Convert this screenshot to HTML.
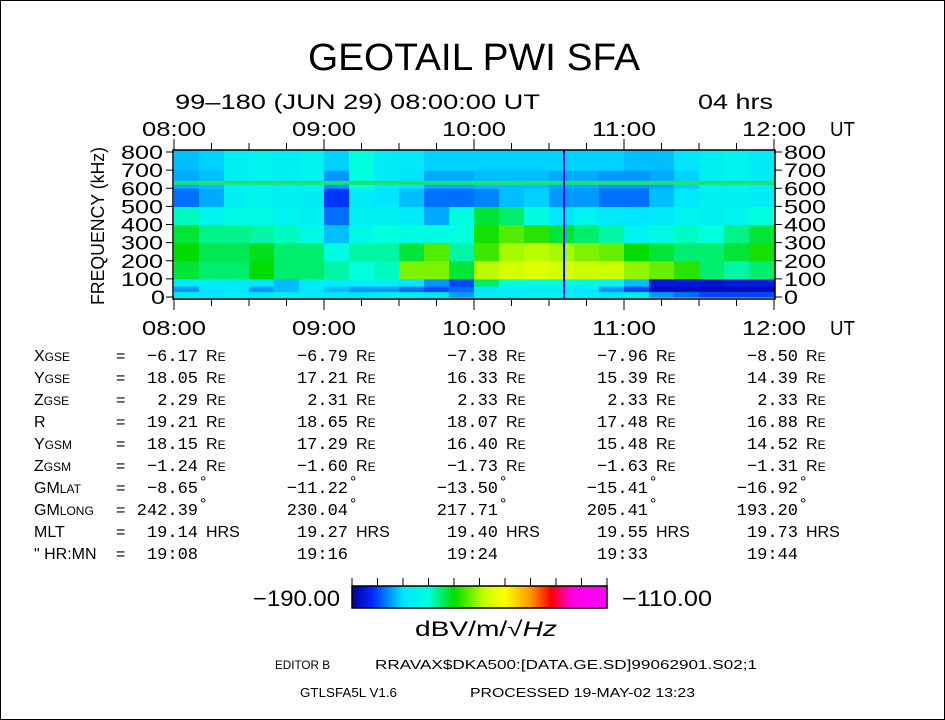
<!DOCTYPE html>
<html><head><meta charset="utf-8">
<style>
html,body{margin:0;padding:0;background:#fff;}
svg{display:block;font-family:"Liberation Sans",sans-serif;}
text{fill:#000;}
.m{font-family:"Liberation Mono",monospace;}
</style></head>
<body>
<svg id="c" width="945" height="720" viewBox="0 0 945 720">
<rect x="0.5" y="0.5" width="944" height="719" fill="#fff" stroke="#000"/>
<text x="308" y="70" font-size="38" textLength="332" lengthAdjust="spacingAndGlyphs">GEOTAIL  PWI  SFA</text>
<text x="175" y="109" font-size="21" textLength="365" lengthAdjust="spacingAndGlyphs">99–180 (JUN 29) 08:00:00 UT</text>
<text x="698" y="109" font-size="21" textLength="75" lengthAdjust="spacingAndGlyphs">04 hrs</text>
<g id="spec"></g>
<g id="axes"></g>
<text transform="translate(104,226) rotate(-90)" font-size="18" text-anchor="middle" textLength="158" lengthAdjust="spacingAndGlyphs">FREQUENCY (kHz)</text>
<g id="table"></g>
<g id="cbar"></g>
<text x="253" y="606" font-size="22" textLength="87" lengthAdjust="spacingAndGlyphs">−190.00</text>
<text x="622" y="606" font-size="22" textLength="90" lengthAdjust="spacingAndGlyphs">−110.00</text>
<text x="415" y="636" font-size="21" textLength="142" lengthAdjust="spacingAndGlyphs">dBV/m/√<tspan font-style="italic">Hz</tspan></text>
<text x="275" y="669" font-size="12" textLength="55" lengthAdjust="spacingAndGlyphs">EDITOR B</text>
<text x="375" y="669" font-size="13" textLength="382" lengthAdjust="spacingAndGlyphs">RRAVAX$DKA500:[DATA.GE.SD]99062901.S02;1</text>
<text x="300" y="697" font-size="13" textLength="97" lengthAdjust="spacingAndGlyphs">GTLSFA5L V1.6</text>
<text x="470" y="697" font-size="13" textLength="225" lengthAdjust="spacingAndGlyphs">PROCESSED 19-MAY-02   13:23</text>
</svg>
<script>
const timeLabels=["08:00","09:00","10:00","11:00","12:00"];
const freqTicks=[0,100,200,300,400,500,600,700,800];
const bandEdges=[0,30,60,100,200,300,400,500,600,700,800];
const band0=[-172,-174,-172,-174,-172,-173,-174,-174,-172,-172,-174,-178,-172,-172,-170,-170,-172,-174,-172,-178,-180,-182,-182,-182];
const band1=[-178,-174,-174,-178,-176,-174,-176,-178,-178,-180,-182,-180,-174,-172,-172,-172,-174,-178,-182,-188,-188,-188,-188,-188];
const band2=[-172,-172,-172,-174,-176,-172,-172,-172,-172,-174,-178,-182,-162,-166,-167,-167,-168,-170,-176,-186,-186,-187,-186,-186];
const band3=[-160,-162,-162,-158,-162,-162,-164,-166,-165,-152,-152,-160,-149,-147,-146,-147,-148,-148,-151,-153,-156,-162,-164,-162];
const band4=[-158,-161,-161,-159,-162,-162,-167,-164,-164,-160,-154,-164,-155,-150,-149,-150,-152,-153,-158,-160,-162,-162,-160,-157];
const band5=[-160,-163,-163,-164,-165,-168,-176,-168,-166,-167,-167,-166,-157,-154,-156,-160,-162,-164,-170,-168,-165,-166,-163,-160];
const band6=[-165,-170,-168,-168,-170,-171,-180,-171,-171,-173,-177,-167,-160,-162,-167,-173,-170,-173,-174,-173,-170,-171,-170,-166];
const band7=[-180,-177,-171,-170,-171,-172,-183,-172,-174,-176,-180,-180,-179,-176,-175,-178,-178,-180,-180,-176,-173,-171,-171,-172];
const band8=[-177,-176,-171,-170,-171,-170,-178,-166,-172,-174,-177,-177,-176,-176,-176,-177,-177,-178,-178,-177,-175,-171,-170,-172];
const band9=[-176,-175,-171,-170,-171,-170,-175,-166,-172,-173,-175,-175,-175,-175,-175,-175,-175,-175,-176,-176,-174,-171,-170,-172];
const bands=[band0,band1,band2,band3,band4,band5,band6,band7,band8,band9];
const lineFreq=[630];
const markerTime=[10.6];
const orbitLabels=["X<tspan font-size='12'>GSE</tspan>","Y<tspan font-size='12'>GSE</tspan>","Z<tspan font-size='12'>GSE</tspan>","R","Y<tspan font-size='12'>GSM</tspan>","Z<tspan font-size='12'>GSM</tspan>","GM<tspan font-size='12'>LAT</tspan>","GM<tspan font-size='12'>LONG</tspan>","MLT","\" HR:MN"];
const orbitUnits=["R<tspan font-size='12'>E</tspan>","R<tspan font-size='12'>E</tspan>","R<tspan font-size='12'>E</tspan>","R<tspan font-size='12'>E</tspan>","R<tspan font-size='12'>E</tspan>","R<tspan font-size='12'>E</tspan>","°","°","HRS",""];
const orbitValues=[
["-6.17","-6.79","-7.38","-7.96","-8.50"],
["18.05","17.21","16.33","15.39","14.39"],
["2.29","2.31","2.33","2.33","2.33"],
["19.21","18.65","18.07","17.48","16.88"],
["18.15","17.29","16.40","15.48","14.52"],
["-1.24","-1.60","-1.73","-1.63","-1.31"],
["-8.65","-11.22","-13.50","-15.41","-16.92"],
["242.39","230.04","217.71","205.41","193.20"],
["19.14","19.27","19.40","19.55","19.73"],
["19:08","19:16","19:24","19:33","19:44"]];

const NS="http://www.w3.org/2000/svg";
const X0=174,X1=774,Y0=297,Y1=152;
const xs=h=>X0+(h-8)/4*(X1-X0);
const ys=f=>Y0-f/800*(Y0-Y1);
function mk(tag,attrs,parent){const e=document.createElementNS(NS,tag);for(const k in attrs)e.setAttribute(k,attrs[k]);parent.appendChild(e);return e;}
const stops=[[0,[0,0,160]],[0.08,[0,40,255]],[0.2,[0,230,255]],[0.3,[0,255,220]],[0.4,[0,220,0]],[0.52,[200,255,0]],[0.6,[255,255,0]],[0.7,[255,150,0]],[0.78,[255,0,0]],[0.86,[255,0,230]],[1,[255,0,255]]];
function cmap(v){let t=Math.max(0,Math.min(1,(v+190)/80));for(let i=1;i<stops.length;i++){if(t<=stops[i][0]){const a=stops[i-1],b=stops[i];const u=(t-a[0])/(b[0]-a[0]);const c=a[1].map((x,j)=>Math.round(x+(b[1][j]-x)*u));return `rgb(${c})`;}}return "rgb(255,0,255)";}

const spec=document.getElementById('spec');
mk('rect',{x:X0,y:Y1-2,width:X1-X0,height:Y0-Y1+3,fill:cmap(-172)},spec);
const nT=band0.length;
bands.forEach((arr,bi)=>{arr.forEach((v,ti)=>{
 const x=xs(8+ti*4/nT),w=xs(8+(ti+1)*4/nT)-x;
 const yTop=bi==bands.length-1?Y1-2:ys(bandEdges[bi+1]),yb=ys(bandEdges[bi]);
 const r=mk('rect',{x:x.toFixed(2),y:yTop.toFixed(2),width:(w+0.5).toFixed(2),height:(yb-yTop+0.5).toFixed(2),fill:cmap(v)},spec);
 
 
});});
lineFreq.forEach(f=>{const r=mk('rect',{x:X0,y:ys(f)-2,width:X1-X0,height:4,fill:"#20e070"},spec);
 
 });
markerTime.forEach(t=>{const l=mk('line',{x1:xs(t),x2:xs(t),y1:Y1-2,y2:Y0+1,stroke:"#0000ff","stroke-width":2},spec);
 
 });

const ax=document.getElementById('axes');
mk('rect',{x:X0-1,y:Y1-2,width:X1-X0+2,height:Y0-Y1+4,fill:"none",stroke:"#000","stroke-width":1.5},ax);
for(let i=0;i<=16;i++){const x=xs(8+i/4),maj=i%4==0;
 mk('line',{x1:x,x2:x,y1:maj?139:143,y2:Y1-2,stroke:"#000"},ax);
 mk('line',{x1:x,x2:x,y1:Y0+2,y2:maj?310:306,stroke:"#000"},ax);}
timeLabels.forEach((s,i)=>{const x=xs(8+i);
 const t1=mk('text',{x:x-32,y:136,"font-size":20,textLength:64,lengthAdjust:"spacingAndGlyphs"},ax);t1.textContent=s;
 
 
 const t2=mk('text',{x:x-32,y:335,"font-size":20,textLength:64,lengthAdjust:"spacingAndGlyphs"},ax);t2.textContent=s;
 
 });
[136,335].forEach(y=>{const t=mk('text',{x:830,y:y,"font-size":20,textLength:25,lengthAdjust:"spacingAndGlyphs"},ax);t.textContent="UT";
 
 });
freqTicks.forEach(f=>{const y=ys(f);const n=String(f).length;
 mk('line',{x1:X0-8,x2:X0,y1:y,y2:y,stroke:"#000"},ax);
 mk('line',{x1:X1,x2:X1+8,y1:y,y2:y,stroke:"#000"},ax);
 const a=mk('text',{x:X0-8-n*15,y:y+7,"font-size":19,textLength:n*14,lengthAdjust:"spacingAndGlyphs"},ax);a.textContent=f;
 
 
 const b=mk('text',{x:X1+10,y:y+7,"font-size":19,textLength:n*14,lengthAdjust:"spacingAndGlyphs"},ax);b.textContent=f;
 
 });

const tb=document.getElementById('table');
const colEnd=[198,348,498,648,798];
orbitLabels.forEach((lab,r)=>{const y=361+r*22;
 const l=mk('text',{x:34,y:y,"font-size":16},tb);l.innerHTML=lab;
 
 
 const e=mk('text',{x:116,y:y,"font-size":16},tb);e.textContent="=";
 orbitValues[r].forEach((v,c)=>{const t=mk('text',{x:colEnd[c],y:y,"font-size":17,"text-anchor":"end",class:"m"},tb);t.textContent=v.replace('-','−');
  
  
  if(orbitUnits[r]){const u=mk('text',{x:colEnd[c]+(orbitUnits[r]=="°"?2:8),y:orbitUnits[r]=="°"?y-6:y,"font-size":16},tb);u.innerHTML=orbitUnits[r];}});});

const cb=document.getElementById('cbar');
const defs=mk('defs',{},cb);const g=mk('linearGradient',{id:"cg",x1:0,x2:1,y1:0,y2:0},defs);
stops.forEach(s=>mk('stop',{offset:s[0],"stop-color":`rgb(${s[1]})`},g));
mk('rect',{x:352,y:586,width:255,height:22,fill:"url(#cg)",stroke:"#000","stroke-width":1.5},cb);
for(let i=0;i<=10;i++){const x=352+i*25.5;mk('line',{x1:x,x2:x,y1:578,y2:586,stroke:"#000"},cb);}
</script>
</body></html>
